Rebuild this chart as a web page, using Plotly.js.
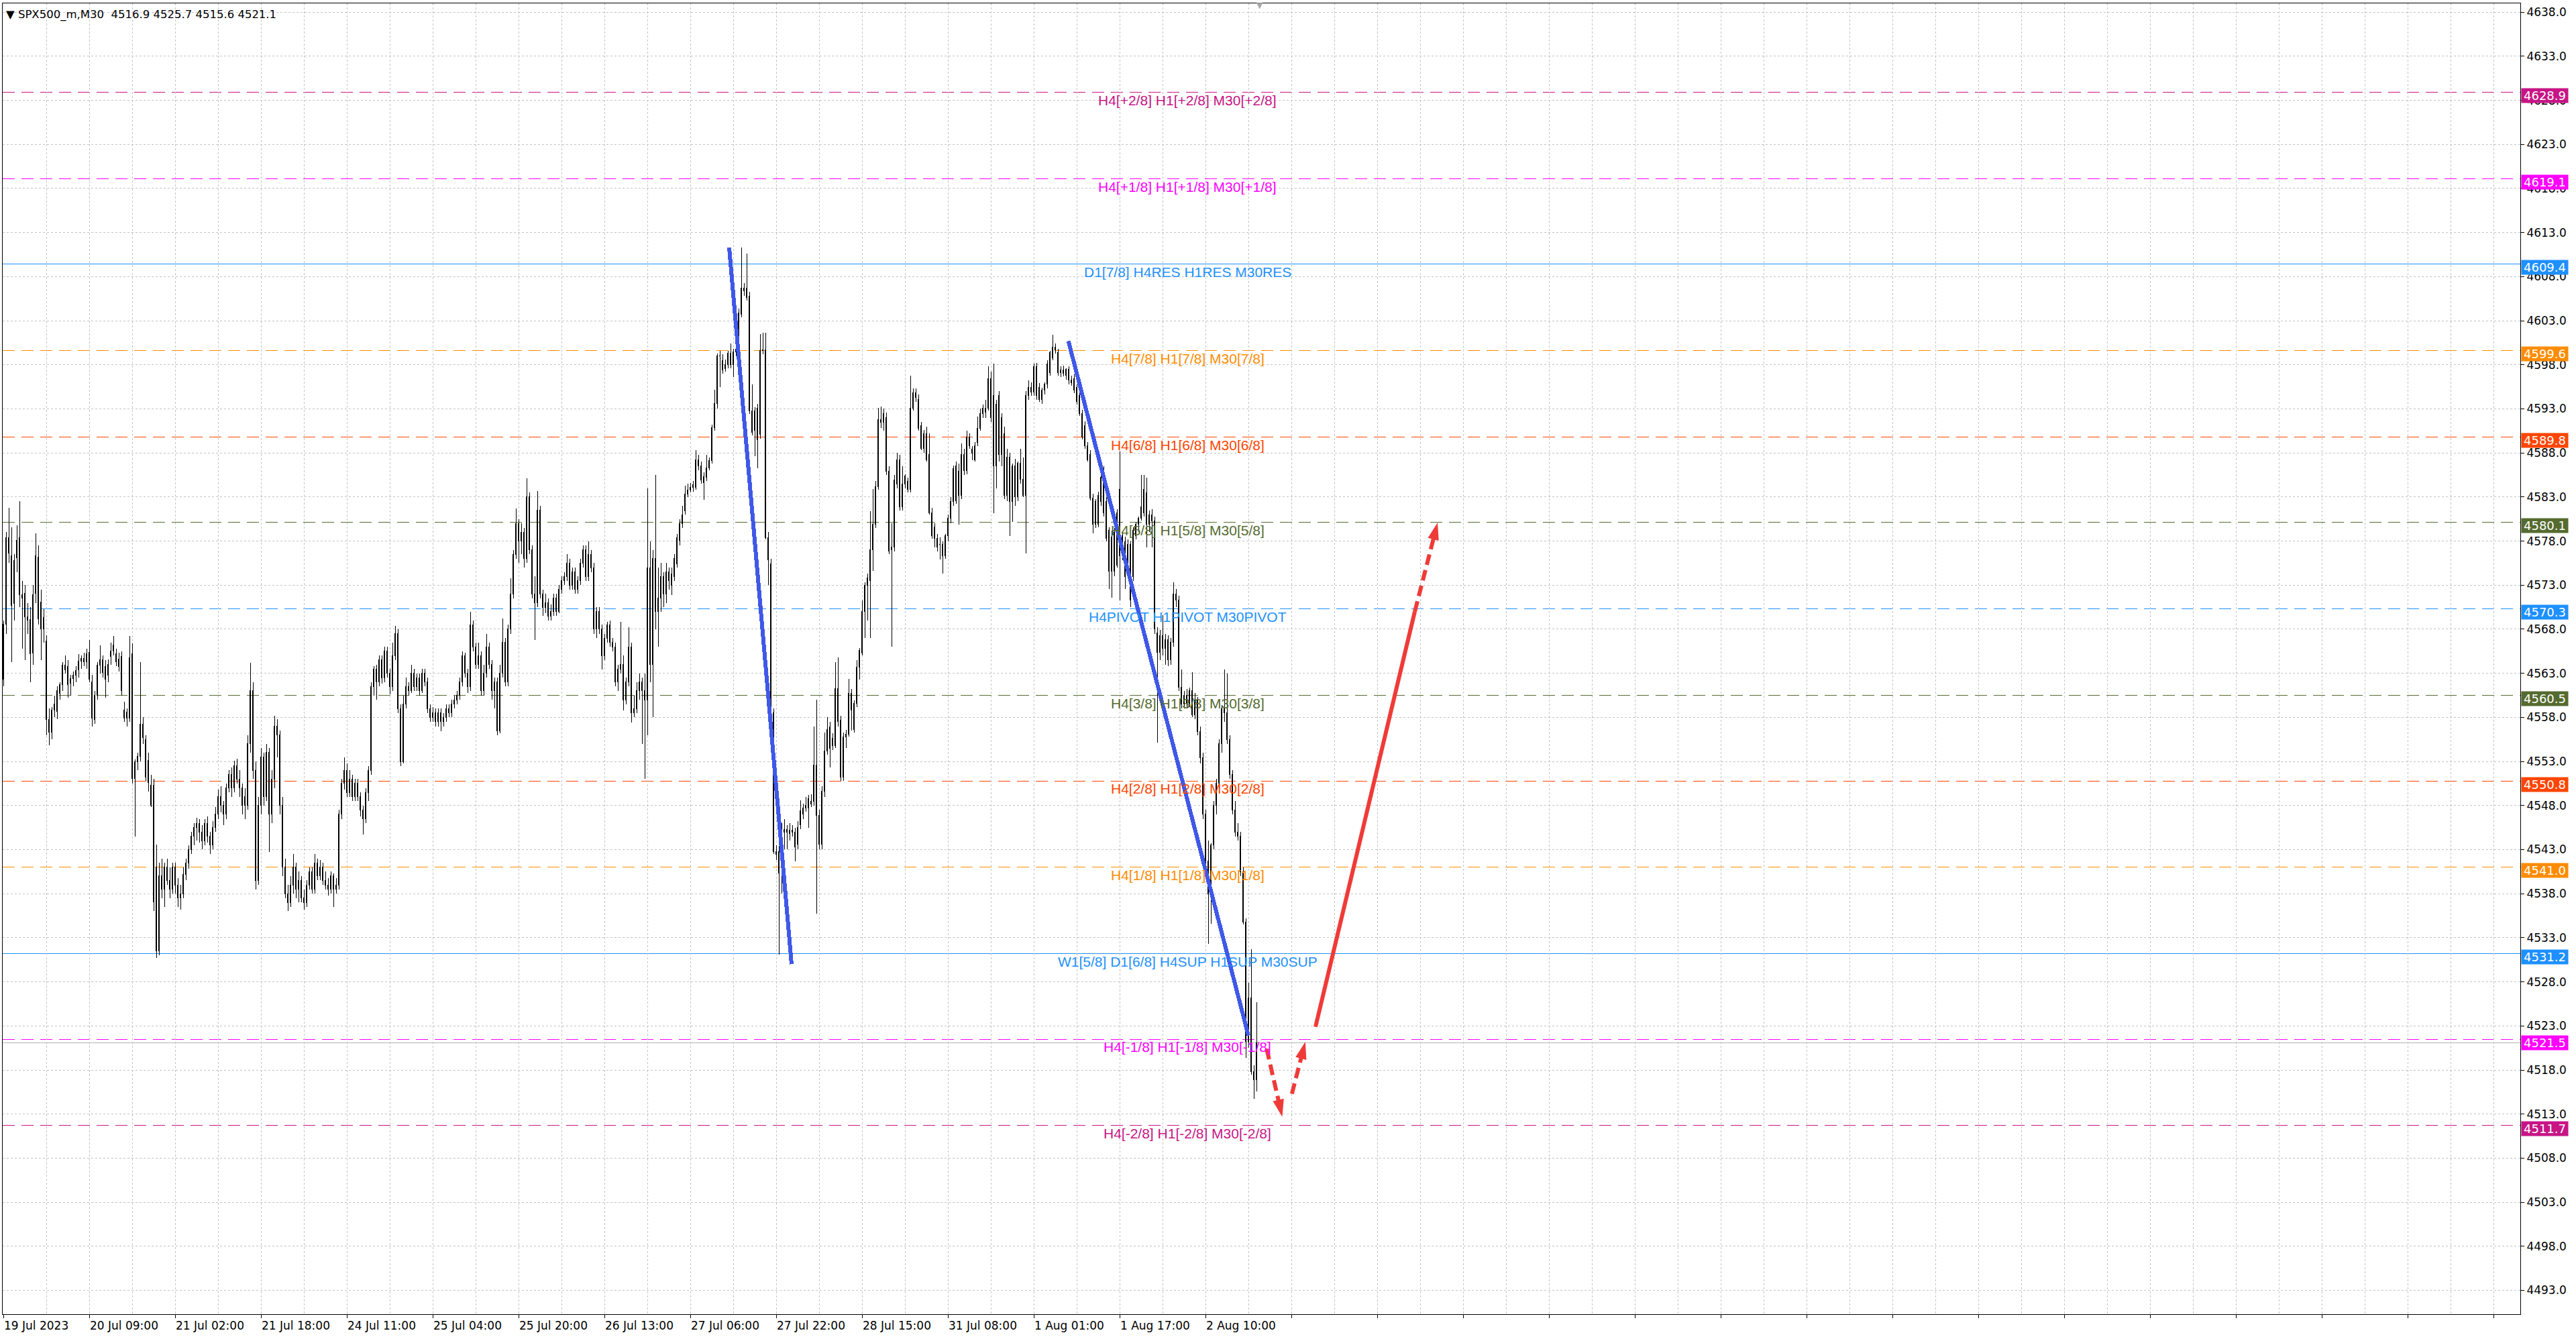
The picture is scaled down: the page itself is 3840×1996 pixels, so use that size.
<!DOCTYPE html>
<html><head><meta charset="utf-8">
<script src="https://cdn.plot.ly/plotly-3.0.1.min.js"></script>
<style>html,body{margin:0;padding:0;background:#fff}#chart{width:3840px;height:1996px}
#chart .boxlayer path{shape-rendering:crispEdges}
#chart .shapelayer path{shape-rendering:crispEdges}</style>
</head><body><div id="chart"></div>
<script>
// ---- data (bar index 0..467, M30 bars) ----
const open = [
4562.3,4568.6,4578.4,4576.3,4570.9,4576.1,4578.4,4571.9,4572.1,4569.4,
4569.1,4565.3,4572.1,4576.2,4571.1,4568.0,4566.7,4557.8,4556.3,4558.8,
4558.7,4560.7,4561.7,4563.9,4563.8,4561.9,4562.4,4562.8,4563.4,4564.4,
4564.7,4564.3,4565.4,4562.0,4557.8,4560.5,4563.9,4564.5,4563.8,4562.8,
4564.9,4566.2,4565.2,4564.6,4564.9,4558.8,4557.9,4557.9,4565.2,4551.1,
4553.0,4553.6,4557.2,4555.5,4553.1,4550.3,4550.3,4541.0,4531.5,4540.0,
4538.5,4541.0,4539.5,4538.5,4541.0,4539.0,4537.5,4538.0,4540.2,4541.5,
4543.0,4544.5,4545.5,4546.0,4545.0,4544.0,4546.0,4544.5,4543.5,4545.5,
4547.0,4549.0,4548.0,4547.0,4550.0,4551.5,4550.0,4552.5,4551.0,4550.0,
4548.0,4548.0,4555.0,4561.0,4552.0,4539.5,4548.0,4553.5,4549.0,4554.0,
4547.0,4551.0,4557.0,4556.0,4548.0,4541.0,4538.0,4537.0,4539.0,4541.0,
4538.5,4539.5,4537.5,4537.0,4539.0,4540.5,4538.5,4541.5,4540.0,4541.0,
4539.5,4539.0,4538.5,4540.0,4538.5,4539.0,4547.0,4550.5,4552.0,4549.5,
4551.0,4549.0,4550.5,4549.0,4547.5,4546.5,4549.5,4552.0,4561.5,4563.5,
4562.0,4564.5,4562.5,4565.5,4563.0,4561.5,4565.0,4567.5,4559.0,4553.0,
4559.5,4561.5,4561.0,4563.0,4561.5,4562.5,4561.0,4563.0,4562.0,4559.0,
4558.0,4558.5,4557.5,4558.5,4557.5,4558.0,4559.0,4558.5,4559.5,4560.0,
4560.5,4562.0,4565.0,4563.0,4561.5,4568.5,4566.0,4564.0,4565.0,4561.0,
4563.0,4566.0,4564.0,4561.0,4562.0,4556.5,4563.0,4566.5,4562.0,4568.0,
4572.0,4576.5,4580.0,4578.0,4579.0,4576.0,4583.0,4577.0,4572.0,4571.0,
4581.5,4572.0,4570.5,4571.0,4569.5,4570.0,4571.5,4570.0,4572.5,4573.5,
4574.0,4575.5,4573.0,4574.5,4572.5,4573.5,4575.5,4577.0,4574.0,4576.5,
4575.0,4568.0,4570.0,4568.0,4565.0,4567.0,4568.5,4566.5,4566.0,4562.0,
4563.5,4564.0,4560.0,4562.0,4566.0,4558.5,4559.0,4561.0,4562.0,4561.0,
4560.0,4575.0,4564.0,4576.0,4570.0,4571.5,4574.0,4572.0,4574.5,4573.0,
4574.0,4575.4,4578.1,4580.0,4581.4,4583.3,4583.8,4584.1,4584.1,4587.2,
4586.5,4584.6,4585.2,4586.3,4587.1,4590.9,4593.6,4599.0,4598.5,4597.6,
4598.0,4599.3,4598.0,4599.5,4600.4,4603.7,4606.7,4606.7,4605.8,4592.8,
4590.6,4593.1,4590.1,4599.6,4599.7,4578.4,4575.4,4558.5,4542.8,4542.8,
4543.6,4545.0,4545.3,4544.8,4545.2,4545.0,4543.6,4545.8,4547.0,4547.7,
4547.7,4548.2,4548.5,4552.6,4546.9,4543.6,4549.6,4554.2,4556.9,4554.8,
4554.8,4561.3,4557.7,4551.2,4555.8,4556.1,4560.7,4556.6,4559.6,4563.7,
4565.3,4570.0,4573.0,4573.5,4577.0,4579.9,4584.2,4591.8,4591.5,4592.0,
4585.9,4577.0,4577.3,4584.5,4587.2,4581.9,4584.5,4584.8,4583.9,4593.1,
4594.8,4594.1,4591.1,4588.5,4590.2,4587.8,4581.2,4579.6,4577.3,4577.6,
4577.6,4576.3,4578.6,4580.6,4582.5,4582.6,4585.9,4583.2,4587.8,4586.0,
4589.8,4588.0,4588.8,4589.2,4590.8,4592.5,4593.1,4593.1,4596.4,4594.5,
4586.5,4594.5,4587.8,4590.2,4583.2,4587.5,4582.5,4586.5,4583.0,4586.8,
4585.0,4583.2,4594.5,4595.4,4594.9,4597.8,4595.4,4594.1,4595.1,4595.8,
4597.1,4598.8,4600.0,4599.4,4597.1,4597.4,4596.8,4597.5,4596.3,4596.4,
4595.4,4594.5,4592.5,4591.1,4588.8,4587.8,4582.9,4579.9,4583.2,4582.5,
4585.2,4582.5,4579.2,4574.6,4579.0,4575.3,4583.9,4576.3,4577.9,4575.9,
4577.6,4574.0,4578.6,4579.9,4580.6,4581.2,4583.5,4579.9,4581.0,4580.3,
4567.6,4565.4,4567.3,4565.8,4566.8,4564.5,4566.5,4572.0,4571.3,4561.4,
4559.5,4560.5,4559.6,4561.0,4558.3,4560.0,4556.4,4553.4,4547.0,4541.7,
4538.0,4543.5,4548.0,4550.5,4555.0,4559.0,4558.5,4555.5,4551.5,4547.5,
4545.0,4544.5,4540.5,4534.8,4521.2,4526.2,4517.8,4516.9];
const high = [
4569.0,4579.0,4581.8,4579.6,4576.5,4579.8,4582.5,4573.5,4573.0,4571.0,
4570.5,4573.0,4578.9,4577.5,4572.5,4570.3,4567.3,4559.0,4559.2,4560.5,
4561.5,4562.0,4564.3,4565.0,4564.5,4562.8,4563.2,4563.8,4565.2,4565.0,
4565.3,4565.8,4566.8,4562.8,4561.0,4564.3,4566.2,4565.0,4564.5,4564.6,
4566.5,4567.2,4565.8,4565.3,4565.5,4559.8,4559.0,4567.2,4566.4,4553.2,
4554.0,4564.3,4558.0,4556.0,4554.0,4551.5,4551.0,4543.6,4541.5,4542.0,
4541.5,4542.0,4541.0,4541.5,4541.5,4539.8,4539.0,4541.0,4542.0,4543.5,
4545.0,4546.0,4546.6,4546.5,4545.8,4546.5,4546.8,4545.0,4546.2,4547.8,
4549.8,4550.2,4548.5,4550.5,4552.0,4552.3,4553.1,4553.3,4552.0,4550.5,
4550.0,4556.0,4564.2,4562.0,4553.0,4549.0,4554.5,4554.0,4555.0,4554.5,
4552.0,4558.2,4557.8,4556.5,4549.0,4542.0,4539.0,4540.0,4542.5,4541.5,
4540.5,4540.0,4538.5,4539.5,4541.0,4541.0,4542.5,4542.0,4541.8,4541.5,
4540.5,4539.8,4540.5,4540.3,4539.8,4547.5,4551.0,4553.5,4552.8,4552.0,
4551.5,4551.0,4551.0,4549.5,4548.0,4550.0,4552.5,4562.0,4563.8,4564.0,
4565.0,4565.0,4566.0,4566.0,4563.5,4566.5,4568.4,4568.0,4559.5,4560.5,
4562.5,4562.0,4564.0,4563.5,4563.0,4563.0,4563.5,4563.5,4562.5,4559.5,
4559.2,4559.0,4559.0,4559.0,4558.5,4559.5,4559.5,4560.0,4560.5,4561.0,
4562.5,4565.5,4565.3,4563.5,4570.0,4569.0,4566.5,4566.5,4565.5,4564.0,
4567.5,4566.5,4564.5,4562.5,4562.5,4564.0,4569.2,4567.0,4568.5,4573.8,
4577.0,4581.7,4580.5,4580.0,4579.5,4585.1,4583.5,4577.5,4574.0,4583.7,
4582.0,4572.5,4572.0,4571.5,4570.8,4572.0,4572.0,4573.0,4574.0,4574.5,
4576.5,4576.0,4575.0,4575.0,4574.0,4576.0,4577.5,4577.5,4578.0,4577.0,
4575.5,4570.5,4570.5,4568.5,4567.5,4568.8,4569.0,4567.0,4566.5,4564.0,
4568.8,4565.0,4562.5,4568.2,4566.5,4560.5,4562.0,4563.0,4562.5,4563.0,
4584.0,4578.0,4577.0,4585.5,4575.0,4575.5,4574.5,4575.5,4575.0,4575.0,
4576.5,4578.8,4580.5,4582.0,4584.3,4584.5,4584.6,4584.8,4588.3,4587.8,
4587.0,4585.8,4587.8,4587.5,4591.2,4595.2,4599.3,4599.6,4599.2,4598.6,
4599.6,4600.4,4599.8,4600.5,4604.4,4611.3,4607.3,4610.6,4606.3,4595.8,
4593.2,4593.6,4601.5,4601.6,4601.6,4579.0,4576.0,4559.0,4543.5,4543.4,
4546.0,4546.5,4545.8,4546.0,4545.8,4545.5,4546.2,4548.6,4548.2,4549.0,
4549.2,4549.3,4557.0,4560.0,4547.5,4550.2,4556.3,4558.0,4557.5,4556.2,
4564.3,4564.8,4558.2,4556.3,4556.6,4562.4,4561.2,4559.9,4564.5,4565.9,
4571.3,4573.3,4574.3,4581.4,4583.9,4584.8,4593.1,4593.3,4593.0,4592.6,
4586.5,4580.0,4585.5,4588.0,4587.8,4586.5,4585.6,4585.2,4596.8,4595.3,
4595.3,4594.6,4591.5,4590.6,4591.0,4590.2,4581.8,4580.0,4578.8,4578.4,
4578.0,4578.8,4581.0,4583.0,4586.6,4587.0,4586.8,4589.1,4588.5,4590.5,
4590.2,4588.8,4589.2,4592.1,4593.0,4593.5,4594.0,4597.8,4597.2,4598.1,
4594.0,4595.0,4592.5,4591.0,4588.5,4588.0,4586.8,4587.3,4587.0,4588.5,
4587.5,4595.0,4596.2,4596.0,4598.1,4598.2,4595.9,4595.4,4596.0,4598.5,
4599.6,4601.4,4600.4,4599.8,4597.8,4597.9,4597.6,4597.8,4596.8,4596.9,
4595.8,4595.0,4592.9,4591.6,4589.2,4588.3,4583.4,4582.8,4583.6,4585.8,
4586.5,4583.0,4579.6,4579.2,4579.5,4581.6,4588.2,4579.0,4578.5,4578.2,
4578.0,4579.6,4580.2,4580.8,4585.5,4585.5,4585.2,4581.5,4581.6,4580.8,
4568.2,4567.9,4569.6,4567.5,4567.3,4567.0,4573.3,4572.6,4571.8,4563.4,
4561.0,4561.2,4561.4,4563.1,4560.8,4560.3,4557.0,4554.0,4547.5,4544.0,
4543.7,4548.5,4551.0,4555.5,4559.4,4563.4,4563.0,4556.0,4552.0,4548.5,
4546.0,4545.0,4541.0,4535.2,4527.9,4531.7,4518.5,4525.7];
const low = [
4561.5,4567.5,4575.5,4564.3,4569.0,4574.5,4570.5,4565.8,4564.5,4567.5,
4562.0,4564.0,4571.0,4568.5,4564.5,4566.5,4556.0,4554.8,4555.5,4558.0,
4557.8,4560.0,4561.0,4563.0,4560.2,4560.5,4561.5,4562.0,4562.5,4563.5,
4563.8,4563.5,4562.0,4557.0,4557.3,4560.0,4563.0,4562.5,4560.2,4562.0,
4564.0,4565.0,4563.8,4563.2,4560.5,4557.5,4557.0,4557.5,4550.5,4544.5,
4552.0,4553.0,4555.0,4550.8,4549.6,4547.8,4536.0,4530.7,4531.0,4537.5,
4536.5,4539.0,4537.5,4538.0,4538.0,4536.5,4536.2,4537.5,4539.5,4540.8,
4542.5,4543.5,4544.0,4543.8,4543.0,4543.5,4543.8,4542.5,4543.0,4545.0,
4546.5,4547.2,4545.8,4546.5,4549.5,4549.0,4549.5,4550.5,4549.0,4547.0,
4546.5,4547.5,4554.0,4551.0,4538.5,4539.0,4547.0,4548.0,4548.5,4542.7,
4546.0,4550.0,4553.5,4547.0,4540.0,4537.5,4536.0,4536.5,4538.0,4537.5,
4537.0,4537.0,4536.2,4536.5,4538.5,4538.0,4538.0,4539.5,4539.5,4539.0,
4538.5,4537.8,4538.0,4536.5,4538.0,4538.5,4546.5,4549.8,4549.0,4549.0,
4548.5,4548.5,4548.5,4546.8,4544.7,4546.0,4548.5,4551.5,4560.5,4560.0,
4561.5,4561.8,4562.0,4562.5,4560.6,4561.0,4564.5,4558.5,4552.5,4552.8,
4559.0,4560.5,4560.8,4561.0,4561.0,4560.5,4560.8,4561.5,4558.5,4557.5,
4557.5,4557.0,4557.0,4556.4,4557.0,4557.5,4558.0,4558.0,4559.0,4559.5,
4560.0,4561.5,4562.5,4560.8,4561.0,4565.5,4563.5,4563.5,4560.5,4560.5,
4562.5,4563.5,4560.0,4559.0,4556.0,4556.2,4562.5,4561.5,4561.5,4567.5,
4571.5,4576.0,4575.5,4576.5,4575.0,4575.5,4576.5,4571.5,4566.8,4570.5,
4571.5,4569.5,4569.8,4569.0,4569.0,4569.5,4569.5,4569.8,4572.0,4573.0,
4573.5,4572.5,4572.5,4572.0,4572.0,4573.0,4575.0,4573.5,4573.5,4574.5,
4567.5,4567.0,4567.5,4563.4,4564.5,4566.5,4566.0,4565.5,4561.5,4561.0,
4563.0,4558.8,4559.5,4561.5,4557.4,4558.0,4558.5,4560.0,4555.0,4551.0,
4556.0,4562.0,4558.0,4568.0,4566.0,4570.0,4570.5,4571.0,4572.5,4571.9,
4573.5,4575.0,4577.5,4579.5,4581.0,4583.0,4583.5,4583.6,4583.8,4586.0,
4584.5,4582.7,4584.8,4586.0,4586.8,4590.5,4593.0,4595.5,4597.0,4597.2,
4597.6,4597.6,4596.6,4599.0,4600.0,4603.4,4605.8,4605.3,4592.4,4590.0,
4587.6,4586.3,4589.6,4599.2,4578.2,4573.0,4558.2,4542.5,4541.8,4531.1,
4538.0,4543.0,4543.0,4544.0,4544.5,4541.7,4543.0,4545.3,4546.5,4547.3,
4545.5,4547.8,4548.0,4535.7,4543.0,4543.0,4549.0,4553.8,4552.3,4554.3,
4554.5,4557.0,4550.8,4550.8,4554.5,4555.8,4556.5,4556.3,4559.2,4562.3,
4565.0,4567.0,4569.0,4567.0,4574.6,4579.5,4583.8,4590.8,4590.5,4585.5,
4576.5,4566.0,4576.8,4584.0,4581.5,4581.5,4584.0,4583.5,4583.5,4592.8,
4593.8,4590.5,4588.3,4588.0,4587.0,4581.0,4578.3,4577.3,4576.8,4575.9,
4574.3,4576.0,4578.0,4580.0,4582.0,4582.2,4579.9,4582.8,4585.5,4585.6,
4588.5,4587.2,4587.0,4588.8,4590.5,4592.0,4592.0,4592.8,4591.5,4581.2,
4584.0,4587.0,4586.5,4582.8,4582.5,4578.6,4580.2,4582.0,4582.5,4584.5,
4583.0,4576.6,4594.0,4594.5,4594.5,4594.0,4593.8,4593.6,4594.6,4595.3,
4596.8,4598.5,4599.3,4596.8,4596.6,4596.7,4596.3,4595.8,4595.6,4594.8,
4593.5,4592.2,4589.5,4588.5,4587.0,4582.6,4578.9,4579.5,4579.6,4582.0,
4580.8,4578.0,4572.6,4571.6,4574.0,4575.0,4571.3,4575.8,4572.6,4575.5,
4570.5,4573.5,4578.2,4579.0,4580.3,4580.8,4577.3,4579.0,4577.3,4567.5,
4555.1,4564.5,4565.0,4564.0,4563.8,4564.0,4566.0,4570.5,4561.0,4559.0,
4559.0,4559.0,4559.2,4558.0,4557.8,4556.0,4552.8,4546.5,4541.2,4532.3,
4534.6,4543.0,4547.0,4550.0,4554.0,4557.5,4555.0,4551.0,4547.0,4544.5,
4544.0,4540.0,4534.5,4519.4,4520.5,4517.5,4514.7,4515.6];
const close = [
4568.6,4578.4,4576.6,4570.7,4575.8,4578.1,4571.9,4571.5,4569.4,4569.0,
4565.2,4571.9,4576.3,4569.2,4568.0,4569.3,4557.8,4556.3,4558.8,4559.5,
4561.0,4561.7,4563.9,4563.4,4561.7,4562.4,4562.8,4563.3,4564.4,4564.7,
4564.3,4565.2,4562.3,4557.9,4560.5,4563.9,4564.5,4563.1,4562.3,4564.0,
4565.5,4565.5,4564.3,4563.8,4561.0,4557.9,4558.6,4564.8,4551.1,4553.0,
4553.6,4557.2,4555.7,4551.2,4550.6,4548.0,4537.1,4531.5,4540.0,4538.5,
4541.0,4539.5,4538.5,4541.0,4539.0,4537.5,4538.0,4540.2,4541.5,4543.0,
4544.5,4545.5,4546.0,4545.0,4544.0,4546.0,4544.5,4543.5,4545.5,4547.0,
4549.0,4548.0,4547.0,4550.0,4551.5,4550.0,4552.5,4551.0,4550.0,4548.0,
4549.0,4555.0,4561.0,4552.0,4539.5,4548.0,4553.5,4549.0,4554.0,4547.0,
4551.0,4557.0,4556.0,4548.0,4541.0,4538.0,4537.0,4539.0,4541.0,4538.5,
4539.5,4537.5,4537.0,4539.0,4540.5,4538.5,4541.5,4540.0,4541.0,4539.5,
4539.0,4538.5,4540.0,4538.5,4539.0,4547.0,4550.5,4552.0,4549.5,4551.0,
4549.0,4550.5,4549.0,4547.5,4546.5,4549.5,4552.0,4561.5,4563.5,4562.0,
4564.5,4562.5,4565.5,4563.0,4561.5,4565.0,4567.5,4559.0,4553.0,4559.5,
4561.5,4561.0,4563.0,4561.5,4562.5,4561.0,4563.0,4562.0,4559.0,4558.0,
4558.5,4557.5,4558.5,4557.5,4558.0,4559.0,4558.5,4559.5,4560.0,4560.5,
4562.0,4565.0,4563.0,4561.5,4568.5,4566.0,4564.0,4565.0,4561.0,4563.0,
4566.0,4564.0,4561.0,4562.0,4556.5,4563.0,4566.5,4562.0,4568.0,4572.0,
4576.5,4580.0,4578.0,4579.0,4576.0,4583.0,4577.0,4572.0,4571.0,4581.5,
4572.0,4570.5,4571.0,4569.5,4570.0,4571.5,4570.0,4572.5,4573.5,4574.0,
4575.5,4573.0,4574.5,4572.5,4573.5,4575.5,4577.0,4574.0,4576.5,4575.0,
4568.0,4570.0,4568.0,4565.0,4567.0,4568.5,4566.5,4566.0,4562.0,4563.5,
4564.0,4560.0,4562.0,4566.0,4558.5,4559.0,4561.0,4562.0,4561.0,4560.0,
4575.0,4564.0,4576.0,4570.0,4571.5,4574.0,4572.0,4574.5,4573.5,4574.3,
4576.0,4578.4,4580.0,4581.0,4583.3,4583.8,4584.1,4584.4,4587.2,4586.5,
4584.9,4585.3,4586.3,4587.1,4590.9,4593.6,4599.0,4599.0,4597.4,4598.0,
4599.3,4598.0,4599.5,4599.8,4603.9,4606.7,4606.4,4605.6,4592.8,4590.3,
4592.8,4589.5,4599.6,4599.7,4578.4,4575.9,4558.5,4542.8,4542.5,4540.3,
4545.5,4545.3,4545.0,4545.2,4545.0,4543.3,4545.5,4547.4,4547.7,4548.0,
4548.8,4548.5,4552.6,4546.9,4543.6,4549.6,4554.2,4556.6,4554.5,4555.6,
4561.3,4557.5,4551.2,4555.8,4556.1,4560.7,4558.8,4559.6,4563.7,4565.6,
4570.0,4573.0,4573.8,4577.0,4579.9,4584.2,4591.8,4591.5,4592.5,4585.9,
4576.9,4577.3,4584.9,4587.2,4581.9,4584.5,4585.4,4583.9,4593.1,4594.8,
4594.3,4590.8,4588.5,4590.2,4587.2,4581.2,4578.6,4578.3,4578.3,4577.6,
4576.3,4578.6,4580.6,4582.5,4586.2,4586.5,4583.2,4587.8,4586.0,4589.8,
4588.8,4588.4,4587.2,4590.8,4592.5,4593.1,4592.6,4596.4,4592.0,4586.5,
4593.5,4587.8,4592.0,4583.2,4587.5,4582.5,4586.5,4583.0,4586.8,4585.0,
4583.2,4594.5,4595.4,4594.9,4597.8,4594.5,4594.1,4595.1,4595.8,4598.1,
4599.4,4600.0,4599.7,4597.1,4597.4,4597.0,4597.5,4596.3,4596.0,4595.1,
4593.8,4592.5,4589.8,4588.8,4587.2,4582.9,4579.9,4582.5,4579.9,4585.2,
4581.2,4578.3,4574.6,4578.5,4574.6,4581.2,4576.3,4578.6,4574.0,4577.6,
4571.3,4579.2,4579.9,4580.6,4581.9,4583.9,4579.9,4581.0,4580.3,4568.0,
4565.4,4567.3,4565.8,4566.8,4564.5,4566.5,4572.0,4571.3,4561.4,4559.5,
4560.5,4559.6,4561.0,4558.3,4560.0,4556.4,4553.4,4547.0,4541.7,4538.0,
4543.5,4548.0,4550.5,4555.0,4559.0,4558.5,4555.5,4551.5,4547.5,4545.0,
4544.5,4540.5,4534.8,4521.2,4526.2,4517.8,4516.9,4521.1];

const tickBars   = [0,32,64,96,128,160,192,224,256,288,320,352,384,416,448];
const tickLabels = ['19 Jul 2023','20 Jul 09:00','21 Jul 02:00','21 Jul 18:00','24 Jul 11:00','25 Jul 04:00',
  '25 Jul 20:00','26 Jul 13:00','27 Jul 06:00','27 Jul 22:00','28 Jul 15:00','31 Jul 08:00',
  '1 Aug 01:00','1 Aug 17:00','2 Aug 10:00'];

const levelPrices = [4628.9,4619.1,4609.4,4599.6,4589.8,4580.1,4570.3,4560.5,4550.8,4541.0,4531.2,4521.5,4511.7];
const levelLabels = ['H4[+2/8] H1[+2/8] M30[+2/8]','H4[+1/8] H1[+1/8] M30[+1/8]','D1[7/8] H4RES H1RES M30RES',
  'H4[7/8] H1[7/8] M30[7/8]','H4[6/8] H1[6/8] M30[6/8]','H4[5/8] H1[5/8] M30[5/8]','H4PIVOT H1PIVOT M30PIVOT',
  'H4[3/8] H1[3/8] M30[3/8]','H4[2/8] H1[2/8] M30[2/8]','H4[1/8] H1[1/8] M30[1/8]',
  'W1[5/8] D1[6/8] H4SUP H1SUP M30SUP','H4[-1/8] H1[-1/8] M30[-1/8]','H4[-2/8] H1[-2/8] M30[-2/8]'];
const bidPrice = 4521.1;
const titleText = '▼ SPX500_m,M30  4516.9 4525.7 4515.6 4521.1';

// drawn trend lines (bar index, price)
const blueLineX = [[270.5, 293.75], [396.9, 464.0]];
const blueLineY = [[4611.3, 4530.0], [4600.7, 4521.9]];
const redSolidX = [489.0, 526.0];
const redSolidY = [4522.9, 4570.0];
const redArrowX = [[470.8, 476.6], [480.2, 485.2], [526.0, 534.5]];
const redArrowY = [[4520.4, 4512.7], [4515.3, 4521.2], [4570.0, 4580.1]];

// ---- styles ----
const levelColors = ['#C71585','#FF00FF','#1E90FF','#FF8C00','#FF4500','#556B2F','#1E90FF',
  '#556B2F','#FF4500','#FF8C00','#1E90FF','#FF00FF','#C71585'];
const levelSolid = [false,false,true,false,false,false,false,false,false,false,true,false,false];
const gridCol = '#c3c3c3';
const BLUE = '#3F58E8', RED = '#EF3B38';
const labelX = 441.25;
const uiFont = 'DejaVu Sans';

const xIdx = open.map((_, i) => i);

const traces = [{
  type: 'candlestick', x: xIdx, open: open, high: high, low: low, close: close,
  increasing: {line: {color: '#000000', width: 1}, fillcolor: '#ffffff'},
  decreasing: {line: {color: '#000000', width: 1}, fillcolor: '#000000'},
  whiskerwidth: 0, hoverinfo: 'skip', showlegend: false
}];

traces.push({
  type: 'scatter', mode: 'lines', x: redSolidX, y: redSolidY,
  line: {color: RED, width: 6}, hoverinfo: 'skip', showlegend: false
});
for (let k = 0; k < redArrowX.length; k++) {
  traces.push({
    type: 'scatter', mode: 'lines+markers', x: redArrowX[k], y: redArrowY[k],
    line: {color: RED, width: 6, dash: '16px,8px'},
    marker: {symbol: 'arrow', size: 27, angleref: 'previous', color: RED, line: {width: 0}},
    hoverinfo: 'skip', showlegend: false
  });
}

const shapes = [];
levelPrices.forEach((p, k) => {
  shapes.push({type: 'line', xref: 'paper', x0: 0, x1: 1, yref: 'y', y0: p, y1: p, layer: 'below',
    line: {color: levelColors[k], width: 1, dash: levelSolid[k] ? 'solid' : '18px,10px'}});
});
shapes.push({type: 'line', xref: 'paper', x0: 0, x1: 1, yref: 'y', y0: bidPrice, y1: bidPrice, layer: 'below',
  line: {color: '#b4b4b4', width: 1}});
for (let k = 0; k < blueLineX.length; k++) {
  shapes.push({type: 'line', xref: 'x', yref: 'y', x0: blueLineX[k][0], x1: blueLineX[k][1],
    y0: blueLineY[k][0], y1: blueLineY[k][1], layer: 'above', line: {color: BLUE, width: 6}});
}

const annotations = [];
levelPrices.forEach((p, k) => {
  annotations.push({xref: 'x', yref: 'y', x: labelX, y: p, xanchor: 'center', yanchor: 'top', yshift: 2,
    showarrow: false, text: levelLabels[k], font: {family: 'Liberation Sans, Arial', size: 21, color: levelColors[k]}});
});
tickBars.forEach((b, k) => {
  annotations.push({xref: 'x', yref: 'paper', x: b, y: 0, xanchor: 'left', yanchor: 'top', yshift: -5, xshift: -1,
    showarrow: false, text: tickLabels[k], font: {family: uiFont, size: 17, color: '#000000'}});
});
levelPrices.forEach((p, k) => {
  annotations.push({xref: 'paper', yref: 'y', x: 1, y: p, xanchor: 'left', yanchor: 'middle', xshift: 1, yshift: -5,
    showarrow: false, text: p.toFixed(1), bgcolor: levelColors[k], borderpad: 1, width: 67, height: 19,
    font: {family: uiFont, size: 18, color: '#ffffff'}});
});
annotations.push({xref: 'paper', yref: 'paper', x: 0, y: 1, xanchor: 'left', yanchor: 'top', xshift: 3, yshift: -5,
  showarrow: false, text: titleText, font: {family: uiFont, size: 16.5, color: '#000000'}});
annotations.push({xref: 'x', yref: 'paper', x: 468.25, y: 1, xanchor: 'center', yanchor: 'top', yshift: 6,
  showarrow: false, text: '▼', font: {family: uiFont, size: 12, color: '#a8a8a8'}});

const majorGrid = [];
for (let v = 0; v <= 938; v += 32) majorGrid.push(v);
const minorGrid = [];
for (let v = 16; v <= 938; v += 32) minorGrid.push(v);

const layout = {
  width: 3840, height: 1996,
  margin: {l: 4, r: 83, t: 5, b: 37, pad: 0},
  paper_bgcolor: '#ffffff', plot_bgcolor: '#ffffff',
  showlegend: false, boxgap: 0.3,
  xaxis: {
    type: 'linear', range: [-0.25, 938], rangeslider: {visible: false},
    tickmode: 'array', tickvals: majorGrid, ticktext: majorGrid.map(() => ''),
    ticks: 'outside', ticklen: 5, tickcolor: '#000000',
    showgrid: true, gridcolor: gridCol, griddash: '3px,3px', gridwidth: 1,
    minor: {tickmode: 'array', tickvals: minorGrid, showgrid: true, gridcolor: gridCol, griddash: '3px,3px', ticks: ''},
    showline: true, linecolor: '#000000', linewidth: 1, mirror: true, zeroline: false, automargin: false,
    fixedrange: true
  },
  yaxis: {
    side: 'right', range: [4490.3, 4639.0], tick0: 4493, dtick: 5, tickformat: '.1f',
    ticks: 'outside', ticklen: 5, tickcolor: '#000000',
    tickfont: {family: uiFont, size: 17, color: '#000000'},
    showgrid: true, gridcolor: gridCol, griddash: '3px,3px', gridwidth: 1,
    showline: true, linecolor: '#000000', linewidth: 1, mirror: true, zeroline: false, automargin: false,
    fixedrange: true
  },
  shapes: shapes,
  annotations: annotations
};

Plotly.newPlot('chart', traces, layout, {displayModeBar: false, staticPlot: true});
</script>
</body></html>
